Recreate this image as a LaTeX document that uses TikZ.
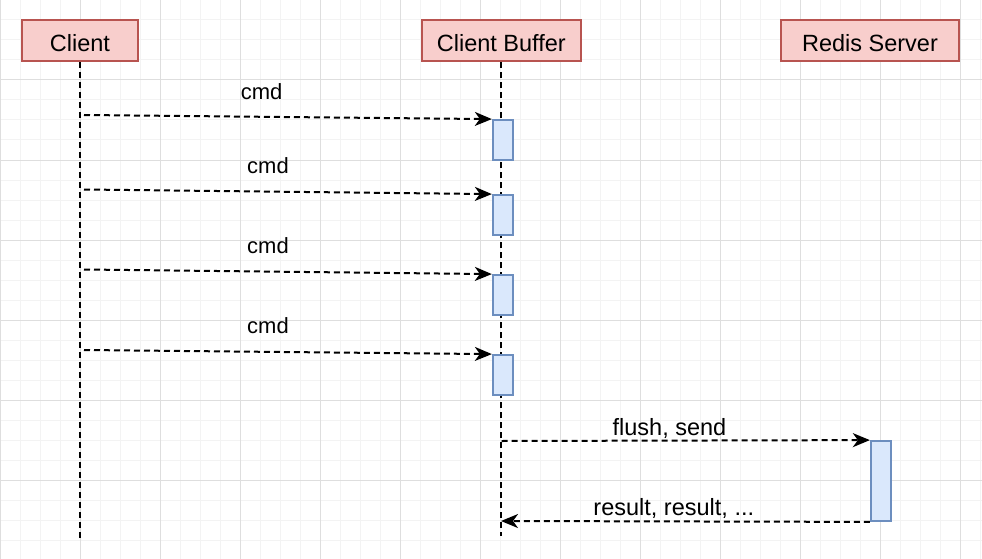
\documentclass[tikz,border=0pt]{standalone}
\usepackage{fontspec}
\setmainfont{Liberation Sans}
\usetikzlibrary{arrows.meta}
\definecolor{actorfill}{HTML}{F8CECC}
\definecolor{actorline}{HTML}{B85450}
\definecolor{actfill}{HTML}{DAE8FC}
\definecolor{actline}{HTML}{6C8EBF}
\definecolor{minorgrid}{HTML}{F3F3F3}
\definecolor{majorgrid}{HTML}{DEDEDE}
\tikzset{
  actor/.style={draw=actorline, fill=actorfill, line width=2pt, inner sep=0pt,
    minimum height=41pt, text height=22pt, text depth=0pt,
    font=\fontsize{23.5}{28}\selectfont},
  actbox/.style={draw=actline, fill=actfill, line width=1.8pt, inner sep=0pt,
    minimum width=20.5pt, minimum height=40pt},
  life/.style={line width=2pt, dash pattern=on 6pt off 4pt},
  msg/.style={line width=2pt, dash pattern=on 6pt off 4pt,
    -{Stealth[length=17pt, width=14pt, inset=5pt]}},
  lbl/.style={anchor=base, inner sep=0pt, font=\fontsize{23.5}{28}\selectfont},
  cmdlbl/.style={anchor=base, inner sep=0pt, font=\fontsize{22}{26}\selectfont},
}
\begin{document}
\begin{tikzpicture}[x=1pt, y=-1pt]
\useasboundingbox (0,0) rectangle (982,559);
\fill[white] (0,0) rectangle (982,559);
% grid
\foreach \x in {0,20,...,980} \draw[minorgrid, line width=1pt] (\x,0) -- (\x,559);
\foreach \y in {0,20,...,559} \draw[minorgrid, line width=1pt] (0,\y) -- (982,\y);
\foreach \x in {0,80,...,980} \draw[majorgrid, line width=1pt] (\x,0) -- (\x,559);
\foreach \y in {0,80,...,559} \draw[majorgrid, line width=1pt] (0,\y) -- (982,\y);

% participants
\node[actor, minimum width=116pt] (client) at (80,40.5) {Client};
\node[actor, minimum width=159pt] (buffer) at (501.3,40.5) {Client Buffer};
\node[actor, minimum width=178.5pt] (redis) at (870,40.5) {Redis Server};

% lifelines
\coordinate (clientend) at (80,541);
\coordinate (bufferend) at (501,536);
\draw[life] (client.south) -- (clientend);
\draw[life] (buffer.south -| bufferend) -- (bufferend);

% activations
\node[actbox] (a1) at (503,140) {};
\node[actbox] (a2) at (503,215) {};
\node[actbox] (a3) at (503,295) {};
\node[actbox] (a4) at (503,375) {};
\node[actbox, minimum height=80pt] (r1) at (881,481) {};

% message start points
\coordinate (s1) at (84,115);
\coordinate (s2) at (84,189.5);
\coordinate (s3) at (84,269.5);
\coordinate (s4) at (84,350);
\coordinate (f1) at (501.5,441);
\coordinate (ret) at (501,521);

\draw[msg] (s1) -- (a1.north west);
\draw[msg] (s2) -- (a2.north west);
\draw[msg] (s3) -- (a3.north west);
\draw[msg] (s4) -- (a4.north west);
\draw[msg] (f1) -- (r1.north west);
\draw[msg] (r1.south west) -- (ret);

% labels
\node[cmdlbl] (l1) at (261.7,100) {cmd};
\node[cmdlbl] (l2) at (268,173) {cmd};
\node[cmdlbl] (l3) at (268,253) {cmd};
\node[cmdlbl] (l4) at (268,333) {cmd};
\node[lbl] (l5) at (669.5,435) {flush, send};
\node[lbl] (l6) at (673.8,515) {result, result, ...};
\end{tikzpicture}
\end{document}
